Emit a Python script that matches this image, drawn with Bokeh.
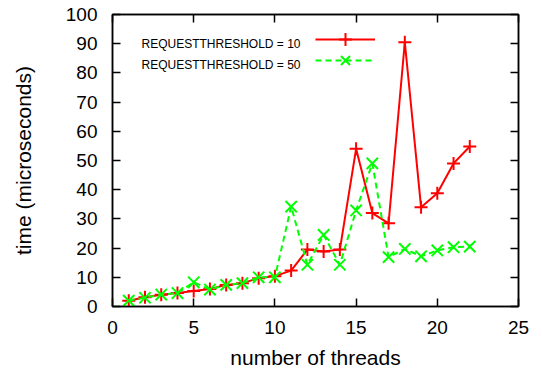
from bokeh.plotting import figure
from bokeh.models import (Range1d, FixedTicker, LinearAxis, Legend, LegendItem, Label)
from bokeh.embed import file_html
from bokeh.resources import INLINE

threads = list(range(1, 23))
rt10 = [2, 3.2, 4, 4.6, 5.3, 6, 7.4, 8, 9.7, 10.4, 12.3, 19.5, 18.8, 19.5,
        54, 32, 28.5, 90.5, 34, 38.8, 49, 54.8]
rt50 = [2, 3, 4.1, 4.6, 8.3, 5.8, 7.4, 8, 10, 10, 34.2, 14.3, 24.5, 14.3,
        32.9, 49, 16.9, 19.7, 17.2, 19.2, 20.3, 20.5]
x_ticks = [0, 5, 10, 15, 20, 25]
y_ticks = [0, 10, 20, 30, 40, 50, 60, 70, 80, 90, 100]
labels = ["REQUESTTHRESHOLD = 10", "REQUESTTHRESHOLD = 50"]

FONT = "Liberation Sans"

p = figure(width=542, height=371, output_backend="svg", toolbar_location=None,
           x_range=Range1d(0, 25), y_range=Range1d(0, 100),
           min_border_left=112, min_border_right=24, min_border_top=14,
           min_border_bottom=65)
p.background_fill_color = "white"
p.border_fill_color = "white"
p.outline_line_color = "black"
p.outline_line_width = 1.5
p.xgrid.visible = False
p.ygrid.visible = False

def style_axis(ax, ticks, show_labels):
    ax.ticker = FixedTicker(ticks=ticks)
    ax.major_tick_in = 8
    ax.major_tick_out = 0
    ax.minor_tick_line_color = None
    ax.major_tick_line_color = "black"
    ax.major_tick_line_width = 1.5
    ax.axis_line_color = "black"
    ax.axis_line_width = 1.5
    ax.major_label_text_font = FONT
    ax.major_label_text_color = "black"
    if show_labels:
        ax.major_label_text_font_size = "19px"
    else:
        ax.major_label_text_font_size = "0px"
        ax.major_label_text_alpha = 0

style_axis(p.xaxis[0], x_ticks, True)
style_axis(p.yaxis[0], y_ticks, True)
p.xaxis[0].major_label_standoff = 14
p.yaxis[0].major_label_standoff = 15
p.xaxis[0].axis_label = "number of threads"
p.yaxis[0].axis_label = "time (microseconds)"
for ax in (p.xaxis[0], p.yaxis[0]):
    ax.axis_label_text_font = FONT
    ax.axis_label_text_font_size = "21px"
    ax.axis_label_text_font_style = "normal"
    ax.axis_label_text_color = "black"
p.xaxis[0].axis_label_standoff = 9
p.yaxis[0].axis_label_standoff = 28

top_ax = LinearAxis()
style_axis(top_ax, x_ticks, False)
p.add_layout(top_ax, "above")
right_ax = LinearAxis()
style_axis(right_ax, y_ticks, False)
p.add_layout(right_ax, "right")

l1 = p.line(threads, rt10, line_color="#ff0000", line_width=2)
m1 = p.scatter(threads, rt10, marker="cross", size=13, line_color="#ff0000",
               line_width=2)
l2 = p.line(threads, rt50, line_color="#00ff00", line_width=2, line_dash="6 4")
m2 = p.scatter(threads, rt50, marker="x", size=16, line_color="#00ff00",
               line_width=2)

for renderers, loc in (([l1, m1], (203, 251)), ([l2, m2], (203, 230))):
    leg = Legend(items=[LegendItem(label=" ", renderers=renderers)],
                 location=loc, glyph_width=60, glyph_height=32,
                 label_height=21, label_width=0, label_standoff=0,
                 padding=0, margin=0, spacing=0,
                 border_line_color=None, background_fill_alpha=0,
                 label_text_font_size="12px")
    p.add_layout(leg, "center")

for i, yy in enumerate([263, 242]):
    p.add_layout(Label(x=188, y=yy, x_units="screen", y_units="screen",
                       text=labels[i], text_align="right",
                       text_baseline="alphabetic", text_font=FONT,
                       text_font_size="12px", text_color="black"))

open("out.html", "w").write(file_html(p, INLINE))
